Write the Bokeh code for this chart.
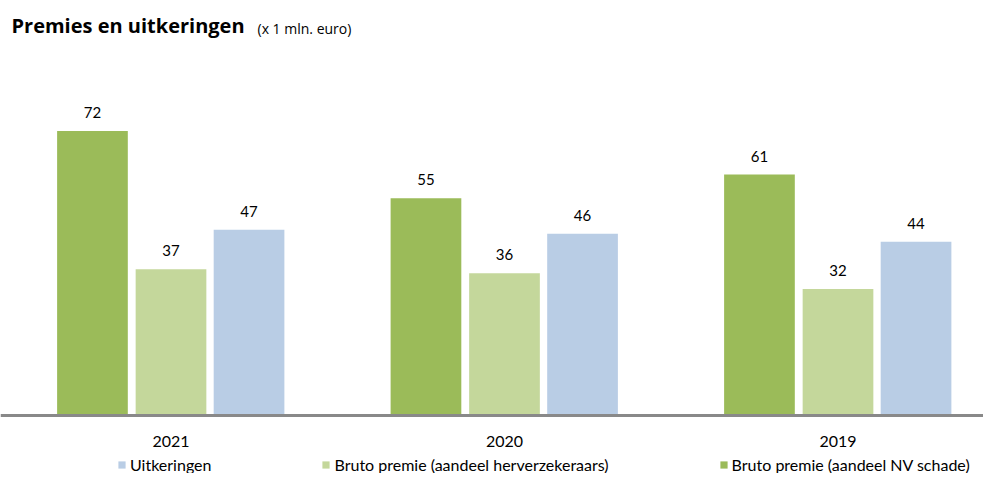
from bokeh.plotting import figure
from bokeh.models import (ColumnDataSource, Range1d, Legend, LegendItem, LabelSet, Label, Span)
from bokeh.core.properties import value
from bokeh.embed import file_html
from bokeh.resources import INLINE

years = ["2021", "2020", "2019"]
nv_schade = [72, 55, 61]
herverzekeraars = [37, 36, 32]
uitkeringen = [47, 46, 44]

series_names = ["Bruto premie (aandeel NV schade)", "Bruto premie (aandeel herverzekeraars)", "Uitkeringen"]
series_values = [nv_schade, herverzekeraars, uitkeringen]
colors = ["#9BBB59", "#C4D79B", "#B9CDE5"]
offsets = [-0.2355, 0.0, 0.234]

W, H = 983, 473
axis_y = 415
px_per_unit = 3.95
group_px = 333.5
first_center_px = 170.5
x_start = -first_center_px / group_px
x_end = (W - first_center_px) / group_px
y_end = axis_y / px_per_unit
y_start = -(H - axis_y) / px_per_unit

p = figure(width=W, height=H, output_backend="svg", toolbar_location=None,
           x_range=Range1d(x_start, x_end), y_range=Range1d(y_start, y_end),
           min_border_left=0, min_border_right=0, min_border_top=0, min_border_bottom=0)
p.outline_line_color = None
p.grid.visible = False
p.axis.visible = False

FONT = "Lato"
xs = list(range(len(years)))
renderers = []
for name, vals, col, off in zip(series_names, series_values, colors, offsets):
    src = ColumnDataSource(dict(x=[i + off for i in xs], top=vals, lab=[str(v) for v in vals]))
    r = p.vbar(x="x", top="top", bottom=0, width=0.212, source=src, fill_color=col, line_color=None)
    renderers.append((name, r))
    p.add_layout(LabelSet(x="x", y="top", text="lab", source=src, text_align="center",
                          text_baseline="bottom", y_offset=13, text_font=value(FONT),
                          text_font_size=value("15px"), text_color=value("#000000")))

# category axis: baseline and year labels
p.add_layout(Span(location=0, dimension="width", line_color="#898989", line_width=3))
ysrc = ColumnDataSource(dict(x=xs, y=[0] * len(xs), t=years))
p.add_layout(LabelSet(x="x", y="y", text="t", source=ysrc, text_align="center",
                      text_baseline="middle", y_offset=-26, text_font=value(FONT),
                      text_font_size=value("16px"), text_color=value("#000000")))

# legend (order: Uitkeringen, herverzekeraars, NV schade)
items = [LegendItem(label=name, renderers=[r]) for name, r in reversed(renderers)]
lg = Legend(items=items, location=(117, -1), orientation="horizontal",
            glyph_width=9, glyph_height=9, label_standoff=4, spacing=110,
            padding=0, margin=0, border_line_color=None, background_fill_alpha=0,
            label_text_font=FONT, label_text_font_size="16px", label_text_color="#000000",
            label_height=16)
p.add_layout(lg, "center")

def dx(fx):
    return x_start + fx / group_px

def dy(fy):
    return (axis_y - fy) / px_per_unit

p.add_layout(Label(x=dx(11), y=dy(25), text="Premies en uitkeringen", text_font="Open Sans",
                   text_font_style="bold", text_font_size="20px", text_baseline="middle",
                   text_color="#000000"))
p.add_layout(Label(x=dx(257), y=dy(27.5), text="(x 1 mln. euro)", text_font="Open Sans",
                   text_font_size="14px", text_baseline="middle", text_color="#000000"))

open("out.html", "w").write(file_html(p, INLINE))
